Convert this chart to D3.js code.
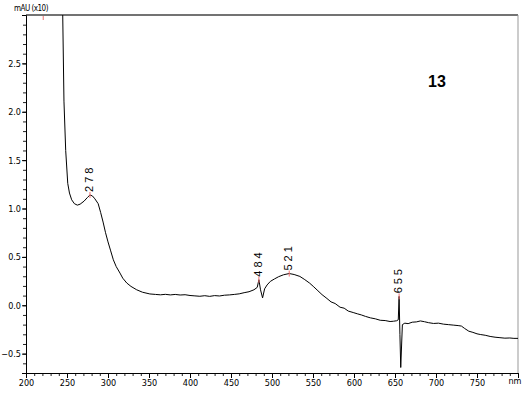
<!DOCTYPE html>
<html>
<head>
<meta charset="utf-8">
<script src="https://cdn.jsdelivr.net/npm/d3@7"></script>
<style>
  body { margin: 0; background: #fff; }
  svg { display: block; }
  .tick text { font-family: "Liberation Sans Narrow", "DejaVu Sans Condensed", "Arial Narrow", sans-serif; font-stretch: condensed; }
</style>
</head>
<body>
<div id="chart"></div>
<script>
// wavelength (nm) and absorbance
const wavelengths = [243, 244.8, 246.3, 248.4, 250.9, 253, 255.7, 259, 262.6, 266, 270.8, 275, 278, 281, 284, 288, 291, 294, 297, 300,
  303, 306.5, 310, 314.6, 318, 322.9, 328, 335, 342, 351, 358, 364, 370, 376, 382, 388, 394, 400, 406, 412,
  418, 424, 430, 436, 442, 448, 454, 460, 466, 472, 478, 482, 484, 486, 488.5, 491, 494, 498, 503, 508,
  514, 521, 527, 534, 540, 546, 551, 556, 561, 567, 572, 577, 583, 588, 593, 599, 604, 609, 614, 620,
  626, 632, 638, 644, 648, 652, 654, 655, 656, 657, 659, 662, 666, 671, 676, 681, 686, 691, 697, 703,
  709, 715, 721, 727, 731, 735, 740, 745, 750, 754, 760, 766, 772, 778, 784, 790, 795, 800];
const absorbance = [3.4, 2.99, 2.11, 1.60, 1.26, 1.16, 1.09, 1.05, 1.035, 1.045, 1.076, 1.115, 1.14, 1.13, 1.10, 1.05, 0.96, 0.86, 0.75, 0.655,
  0.57, 0.47, 0.40, 0.333, 0.28, 0.23, 0.195, 0.16, 0.135, 0.117, 0.112, 0.108, 0.113, 0.107, 0.112, 0.106, 0.109, 0.101, 0.097, 0.093,
  0.099, 0.092, 0.1, 0.096, 0.104, 0.107, 0.112, 0.118, 0.13, 0.14, 0.16, 0.185, 0.264, 0.16, 0.076, 0.17, 0.21, 0.247, 0.272, 0.295,
  0.315, 0.328, 0.318, 0.298, 0.265, 0.228, 0.19, 0.15, 0.11, 0.07, 0.035, 0.018, -0.02, -0.03, -0.06, -0.075, -0.088, -0.1, -0.115, -0.13,
  -0.14, -0.155, -0.158, -0.168, -0.165, -0.16, -0.15, 0.092, -0.3, -0.643, -0.2, -0.185, -0.19, -0.175, -0.172, -0.162, -0.17, -0.18, -0.188, -0.185,
  -0.195, -0.2, -0.205, -0.21, -0.215, -0.24, -0.268, -0.28, -0.295, -0.302, -0.31, -0.322, -0.33, -0.335, -0.34, -0.338, -0.342, -0.342];

const peakWavelengths = [278, 484, 521, 655];
const offscalePeak = 221; // marked at the top edge, label runs off the page
const xMajorTicks = [200, 250, 300, 350, 400, 450, 500, 550, 600, 650, 700, 750];
const yMajorTicks = [-0.5, 0.0, 0.5, 1.0, 1.5, 2.0, 2.5];
const sampleLabel = '13';

const width = 526, height = 396;
const svg = d3.select('#chart').append('svg').attr('width', width).attr('height', height);

const x = d3.scaleLinear().domain([200, 800]).range([26, 518]);
const y = d3.scaleLinear().domain([-0.7, 3.0]).range([373, 15]);

const font = '"Liberation Sans Narrow", "DejaVu Sans Condensed", "Arial Narrow", sans-serif';

// frame: top dark, right gray
svg.append('line').attr('x1', x(200)).attr('x2', x(800)).attr('y1', y(3)).attr('y2', y(3))
  .attr('stroke', '#444').attr('stroke-width', 1.6);
svg.append('line').attr('x1', x(800)).attr('x2', x(800)).attr('y1', y(3)).attr('y2', y(-0.7))
  .attr('stroke', '#999').attr('stroke-width', 1);

// minor ticks
const xMinor = d3.range(200, 801, 10);
const yMinor = d3.range(-7, 30).map(v => v / 10);

svg.append('g').attr('transform', `translate(0,${y(-0.7)})`)
  .call(d3.axisBottom(x).tickValues(xMinor).tickSize(3).tickFormat(''))
  .call(g => g.select('.domain').remove())
  .call(g => g.selectAll('line').attr('stroke', '#222'));

svg.append('g').attr('transform', `translate(${x(200)},0)`)
  .call(d3.axisLeft(y).tickValues(yMinor).tickSize(3).tickFormat(''))
  .call(g => g.select('.domain').remove())
  .call(g => g.selectAll('line').attr('stroke', '#222'));

// major axes
svg.append('g').attr('transform', `translate(0,${y(-0.7)})`)
  .call(d3.axisBottom(x).tickValues(xMajorTicks).tickSize(5).tickPadding(2).tickFormat(d3.format('d')))
  .call(g => g.select('.domain').attr('stroke', '#000'))
  .call(g => g.selectAll('text').attr('font-size', 9).attr('fill', '#000'));

svg.append('g').attr('transform', `translate(${x(200)},0)`)
  .call(d3.axisLeft(y).tickValues(yMajorTicks).tickSize(4).tickPadding(1).tickFormat(d3.format('.1f')))
  .call(g => g.select('.domain').attr('stroke', '#000'))
  .call(g => g.selectAll('text').attr('font-size', 9).attr('fill', '#000'));

svg.append('text').attr('x', 515).attr('y', 384).attr('text-anchor', 'middle')
  .attr('font-family', font).attr('font-size', 9).text('nm');

svg.append('text').attr('x', 48).attr('y', 11).attr('text-anchor', 'end')
  .attr('font-family', font).attr('font-size', 8).attr('letter-spacing', -0.5).text('mAU (x10)');

// spectrum
svg.append('defs').append('clipPath').attr('id', 'plot')
  .append('rect').attr('x', x(200)).attr('y', y(3)).attr('width', x(800) - x(200)).attr('height', y(-0.7) - y(3));

const pts = wavelengths.map((w, i) => [w, absorbance[i]]);
svg.append('path').datum(pts)
  .attr('clip-path', 'url(#plot)')
  .attr('fill', 'none').attr('stroke', '#000').attr('stroke-width', 1)
  .attr('d', d3.line().x(d => x(d[0])).y(d => y(d[1])));

// peak marks
const peakY = w => absorbance[wavelengths.indexOf(w)];
const peaks = svg.append('g');
peakWavelengths.forEach(w => {
  const px = x(w), py = y(peakY(w));
  peaks.append('line').attr('x1', px).attr('x2', px).attr('y1', py - 3).attr('y2', py + 3)
    .attr('stroke', '#f07070').attr('stroke-width', 1);
  peaks.append('text')
    .attr('transform', `translate(${px + 3},${py - 3}) rotate(-90)`)
    .attr('font-family', 'Arial, "Liberation Sans", sans-serif').attr('font-size', 11)
    .attr('letter-spacing', 3).attr('fill', '#000')
    .text(w);
});
// red mark of the off-scale peak at the top edge
peaks.append('line').attr('x1', x(offscalePeak)).attr('x2', x(offscalePeak))
  .attr('y1', y(3) + 1).attr('y2', y(3) + 5).attr('stroke', '#f07070').attr('stroke-width', 1);

svg.append('text').attr('x', 437).attr('y', 87).attr('text-anchor', 'middle')
  .attr('font-family', 'Arial, "Liberation Sans", sans-serif').attr('font-weight', 'bold').attr('font-size', 16)
  .text(sampleLabel);
</script>
</body>
</html>
